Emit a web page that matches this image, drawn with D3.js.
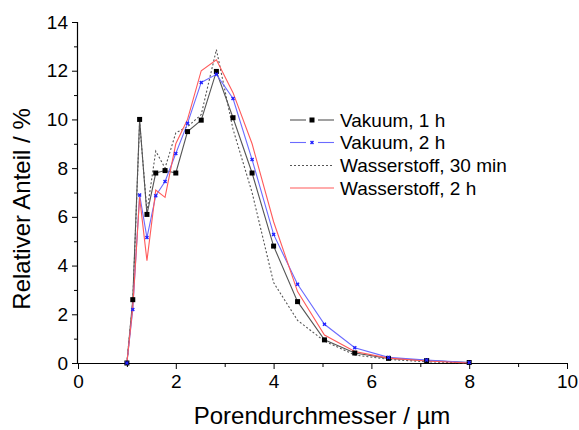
<!DOCTYPE html>
<html>
<head>
<meta charset="utf-8">
<script src="https://cdn.jsdelivr.net/npm/d3@7"></script>
<style>
  html, body { margin: 0; padding: 0; background: #fff; }
  svg { display: block; font-family: Arial, "Liberation Sans", sans-serif; }
</style>
</head>
<body>
<svg id="chart" width="579" height="430"></svg>
<script>
// Pore diameter (µm)
const poreDiameter = [1.00, 1.12, 1.26, 1.41, 1.59, 1.78, 2.00, 2.24, 2.52, 2.83, 3.17, 3.56, 4.00, 4.49, 5.04, 5.66, 6.35, 7.13, 8.00];
// Relative share (%)
const vakuum1h       = [0, 2.6, 10.0, 6.1, 7.8, 7.9, 7.8, 9.5, 9.97, 11.97, 10.07, 7.8, 4.8, 2.52, 0.95, 0.41, 0.19, 0.10, 0.02];
const vakuum2h       = [0, 2.2, 6.9, 5.15, 6.87, 7.45, 8.6, 9.84, 11.52, 11.85, 10.86, 8.35, 5.28, 3.23, 1.59, 0.63, 0.23, 0.12, 0.02];
const wasserstoff30m = [0, 2.5, 9.9, 6.2, 8.7, 8.0, 9.45, 9.7, 10.2, 12.87, 9.6, 7.0, 3.3, 1.75, 0.9, 0.33, 0.15, 0.05, 0];
const wasserstoff2h  = [0, 2.3, 6.8, 4.2, 7.1, 6.8, 9.0, 10.0, 12.0, 12.45, 11.1, 9.0, 5.8, 2.93, 1.15, 0.47, 0.2, 0.08, 0];

const seriesNames = ["Vakuum, 1 h", "Vakuum, 2 h", "Wasserstoff, 30 min", "Wasserstoff, 2 h"];
const xMajorTicks = [0, 2, 4, 6, 8, 10];
const xMinorTicks = [1, 3, 5, 7, 9];
const yMajorTicks = [0, 2, 4, 6, 8, 10, 12, 14];
const yMinorTicks = [1, 3, 5, 7, 9, 11, 13];
const xTitle = "Porendurchmesser / µm";
const yTitle = "Relativer Anteil / %";

const series = [
  { name: seriesNames[0], values: vakuum1h, color: "#555555", dash: null, marker: "square", markerColor: "#000000" },
  { name: seriesNames[1], values: vakuum2h, color: "#6b6bff", dash: null, marker: "star", markerColor: "#2020ff" },
  { name: seriesNames[2], values: wasserstoff30m, color: "#555555", dash: "2,2", marker: null },
  { name: seriesNames[3], values: wasserstoff2h, color: "#ff5a5a", dash: null, marker: null }
];

const svg = d3.select("#chart");
const x = d3.scaleLinear().domain([0, 10]).range([78, 567]);
const y = d3.scaleLinear().domain([0, 14]).range([363, 22]);

// Axes
const xAxis = svg.append("g").attr("transform", `translate(0,${y(0)})`)
  .call(d3.axisBottom(x).tickValues(xMajorTicks).tickSize(6).tickPadding(6).tickFormat(d3.format("d")));
svg.append("g").attr("transform", `translate(0,${y(0)})`)
  .call(d3.axisBottom(x).tickValues(xMinorTicks).tickSize(4).tickFormat(""))
  .select(".domain").remove();
const yAxis = svg.append("g").attr("transform", `translate(${x(0)},0)`)
  .call(d3.axisLeft(y).tickValues(yMajorTicks).tickSize(6).tickPadding(4).tickFormat(d3.format("d")));
svg.append("g").attr("transform", `translate(${x(0)},0)`)
  .call(d3.axisLeft(y).tickValues(yMinorTicks).tickSize(4).tickFormat(""))
  .select(".domain").remove();

svg.selectAll(".domain").attr("stroke", "#000").attr("stroke-width", 1.2);
svg.selectAll(".tick line").attr("stroke", "#000").attr("stroke-width", 1);
svg.selectAll(".tick text").attr("font-size", 19).attr("fill", "#000")
  .attr("font-family", "Arial, 'Liberation Sans', sans-serif");
xAxis.selectAll(".domain").attr("d", `M${x(0)},0.5H${x(10)}`);
yAxis.selectAll(".domain").attr("d", `M-0.5,${y(0)}V${y(14)}`);

// Lines
const line = d3.line().x(d => x(d[0])).y(d => y(d[1]));
const drawOrder = [2, 0, 1, 3];
drawOrder.forEach(i => {
  const s = series[i];
  const pts = poreDiameter.map((d, k) => [d, s.values[k]]);
  svg.append("path").datum(pts)
    .attr("fill", "none")
    .attr("stroke", s.color)
    .attr("stroke-width", 1.1)
    .attr("stroke-dasharray", s.dash)
    .attr("d", line);
});

function drawMarker(g, s, cx, cy) {
  if (s.marker === "square") {
    g.append("rect").attr("x", cx - 2.5).attr("y", cy - 2.5).attr("width", 5).attr("height", 5)
      .attr("fill", s.markerColor);
  } else if (s.marker === "star") {
    g.append("path").attr("d", d3.symbol(d3.symbolCross, 10)())
      .attr("transform", `translate(${cx},${cy}) rotate(45)`)
      .attr("fill", s.markerColor);
  }
}

// Markers
series.forEach(s => {
  if (!s.marker) return;
  const g = svg.append("g");
  poreDiameter.forEach((d, k) => drawMarker(g, s, x(d), y(s.values[k])));
});

// Legend
const legend = svg.append("g");
const legendY = [120, 142.5, 165.5, 188];
series.forEach((s, i) => {
  const ly = legendY[i];
  if (s.marker) {
    legend.append("line").attr("x1", 290).attr("x2", 306).attr("y1", ly).attr("y2", ly)
      .attr("stroke", s.color).attr("stroke-width", 1.1);
    legend.append("line").attr("x1", 318).attr("x2", 334).attr("y1", ly).attr("y2", ly)
      .attr("stroke", s.color).attr("stroke-width", 1.1);
    drawMarker(legend, s, 312, ly);
  } else {
    legend.append("line").attr("x1", 290).attr("x2", 334).attr("y1", ly).attr("y2", ly)
      .attr("stroke", s.color).attr("stroke-width", 1.1).attr("stroke-dasharray", s.dash);
  }
  legend.append("text").attr("x", 340).attr("y", ly + 6.5).attr("font-size", 19)
    .attr("fill", "#000").text(s.name);
});

// Titles
svg.append("text").attr("x", 322).attr("y", 424).attr("text-anchor", "middle")
  .attr("font-size", 24).attr("fill", "#000").text(xTitle);
svg.append("text").attr("transform", "translate(30,209) rotate(-90)").attr("text-anchor", "middle")
  .attr("font-size", 24).attr("fill", "#000").text(yTitle);
</script>
</body>
</html>
